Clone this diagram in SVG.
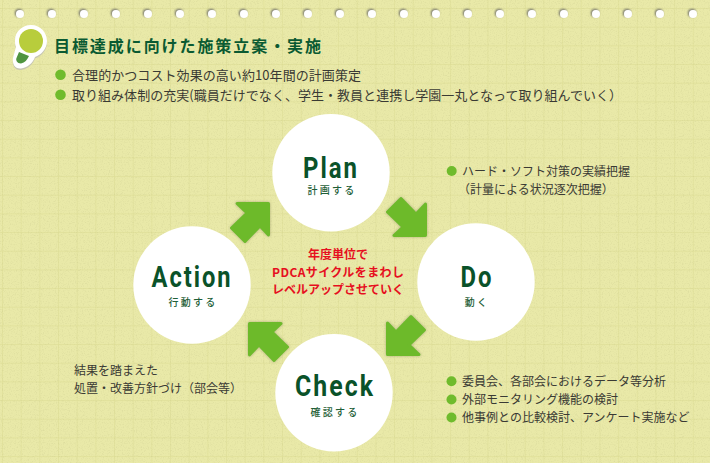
<svg xmlns="http://www.w3.org/2000/svg" xmlns:xlink="http://www.w3.org/1999/xlink" width="710" height="463" viewBox="0 0 710 463">
<style>
text{font-family:"Noto Sans CJK JP","Noto Sans",sans-serif}
.t{font-size:12px;fill:#3a3a34}
.t13{font-size:13px;fill:#3a3a34}
.h{font-family:Roboto,"Liberation Sans",sans-serif;font-weight:700;font-size:30px;letter-spacing:2.500px;fill:#0a5229;text-anchor:middle}
.s{font-size:10px;font-weight:500;fill:#1f5f38;text-anchor:middle;letter-spacing:2.200px}
.r{font-size:12px;font-weight:700;fill:#e60f20;text-anchor:middle}
.b{fill:#6fbb2c}
.n{fill:#fff}
.a{fill:#6dba2c;stroke:#6dba2c;stroke-width:3;stroke-linejoin:round;filter:url(#sh)}
.hole{fill:#fff;filter:url(#hs)}
</style>
<defs>
<pattern id="grid" width="18.67" height="18.67" patternUnits="userSpaceOnUse" x="2" y="8">
<path d="M0 0H18.67M0 0V18.67" stroke="#dcdc92" stroke-width="1" fill="none"/>
</pattern>
<filter id="noise" x="0" y="0" width="100%" height="100%">
<feTurbulence type="fractalNoise" baseFrequency="0.85" numOctaves="2" seed="4"/>
<feColorMatrix values="0 0 0 0 .55 0 0 0 0 .55 0 0 0 0 .25 1.600 0 0 0 -.78"/>
</filter>
<filter id="sh" x="-30%" y="-30%" width="160%" height="160%">
<feGaussianBlur in="SourceAlpha" stdDeviation="1.500"/>
<feColorMatrix values="0 0 0 0 .35 0 0 0 0 .35 0 0 0 0 .15 0 0 0 .8 0"/>
<feMerge><feMergeNode/><feMergeNode in="SourceGraphic"/></feMerge>
</filter>
<filter id="hs" x="-80%" y="-80%" width="260%" height="260%">
<feOffset in="SourceAlpha" dx="-1.200" dy="-1.200"/>
<feGaussianBlur stdDeviation="1"/>
<feColorMatrix values="0 0 0 0 .25 0 0 0 0 .25 0 0 0 0 .18 0 0 0 1.300 0"/>
<feMerge><feMergeNode/><feMergeNode in="SourceGraphic"/></feMerge>
</filter>
<path id="ar" d="M-33 1.500L-23 11L-38.500 26L-25 39.500L-10 24L-1.500 33L-1.500 1.500Z"/>
<circle id="ho" r="4" cx="0" cy="0"/>
</defs>
<g id="paper">
<rect width="710" height="463" fill="#e9e9a8"/>
<rect width="710" height="463" fill="url(#grid)"/>
<rect width="710" height="463" filter="url(#noise)" opacity=".5"/>
</g>
<g id="holes" class="hole">
<use href="#ho" x="20" y="14"/><use href="#ho" x="52" y="14"/><use href="#ho" x="84" y="14"/><use href="#ho" x="116" y="14"/><use href="#ho" x="148" y="14"/><use href="#ho" x="180" y="14"/><use href="#ho" x="212" y="14"/><use href="#ho" x="244" y="14"/><use href="#ho" x="276" y="14"/><use href="#ho" x="308" y="14"/><use href="#ho" x="340" y="14"/><use href="#ho" x="372" y="14"/><use href="#ho" x="404" y="14"/><use href="#ho" x="436" y="14"/><use href="#ho" x="468" y="14"/><use href="#ho" x="500" y="14"/><use href="#ho" x="532" y="14"/><use href="#ho" x="564" y="14"/><use href="#ho" x="596" y="14"/><use href="#ho" x="628" y="14"/><use href="#ho" x="660" y="14"/><use href="#ho" x="693" y="14"/>
</g>
<g id="icon">
<path d="M31 25C41 25 47 33 47 41C47 49 41 55 35 57C33 63 27 68 21 68.500C15 69 12 64 13 58C14 54 15 50 16 47C15 45 15 43 15 40C15 32 22 25 31 25Z" fill="#c6c6b2" transform="translate(0 1.500)"/>
<path d="M31 25C41 25 47 33 47 41C47 49 41 55 35 57C33 63 27 68 21 68.500C15 69 12 64 13 58C14 54 15 50 16 47C15 45 15 43 15 40C15 32 22 25 31 25Z" fill="#fff"/>
<circle cx="31" cy="41" r="12" fill="#b8cd3c"/>
<path d="M19 52L29 56C27 60 25 62.500 21 63.500C17 63.500 15.500 60 16.500 58Z" fill="#4f9440"/>
</g>
<g id="heading">
<text x="54" y="52" font-weight="700" fill="#0a5a32" textLength="267" style="font-size:16px">目標達成に向けた施策立案・実施</text>
<circle class="b" cx="60.500" cy="74.700" r="5.300"/>
<text class="t13" x="72" y="79.500" textLength="289">合理的かつコスト効果の高い約10年間の計画策定</text>
<circle class="b" cx="60.500" cy="94.700" r="5.300"/>
<text class="t13" x="72" y="99.500" textLength="550">取り組み体制の充実(職員だけでなく、学生・教員と連携し学園一丸となって取り組んでいく）</text>
</g>
<g id="connectors">
<use id="arrow-action-plan" class="a" href="#ar" transform="translate(270 202)"/>
<use id="arrow-plan-do" class="a" href="#ar" transform="translate(427 237) rotate(90)"/>
<use id="arrow-do-check" class="a" href="#ar" transform="translate(386 356) rotate(180)"/>
<use id="arrow-check-action" class="a" href="#ar" transform="translate(248 322) rotate(270)"/>
</g>
<g id="plan"><circle class="n" cx="331" cy="172.700" r="58.700"/><text class="h" x="331" y="178" textLength="56" lengthAdjust="spacingAndGlyphs">Plan</text><text class="s" x="332" y="194">計画する</text></g>
<g id="do"><circle class="n" cx="476" cy="282" r="58.700"/><text class="h" x="477" y="287" textLength="33" lengthAdjust="spacingAndGlyphs">Do</text><text class="s" x="477" y="306">動く</text></g>
<g id="check"><circle class="n" cx="334" cy="392.700" r="58.700"/><text class="h" x="335" y="396" textLength="80" lengthAdjust="spacingAndGlyphs">Check</text><text class="s" x="335" y="416">確認する</text></g>
<g id="action"><circle class="n" cx="192" cy="285" r="58.700"/><text class="h" x="192" y="287" textLength="81" lengthAdjust="spacingAndGlyphs">Action</text><text class="s" x="193" y="306">行動する</text></g>
<g id="center"><text class="r" x="338" y="259">年度単位で</text><text class="r" x="338" y="277" textLength="132">PDCAサイクルをまわし</text><text class="r" x="338" y="294" textLength="132">レベルアップさせていく</text></g>
<g id="note-do"><circle class="b" cx="451.700" cy="171" r="5"/><text class="t" x="462" y="176">ハード・ソフト対策の実績把握</text><text class="t" x="458" y="194">（計量による状況逐次把握）</text></g>
<g id="note-check"><circle class="b" cx="451.500" cy="381.300" r="5"/><text class="t" x="462" y="386">委員会、各部会におけるデータ等分析</text><circle class="b" cx="451.500" cy="399.500" r="5"/><text class="t" x="462" y="404">外部モニタリング機能の検討</text><circle class="b" cx="451.500" cy="417.500" r="5"/><text class="t" x="462" y="422">他事例との比較検討、アンケート実施など</text></g>
<g id="note-action"><text class="t" x="74" y="375">結果を踏まえた</text><text class="t" x="74" y="393">処置・改善方針づけ（部会等）</text></g>
</svg>
